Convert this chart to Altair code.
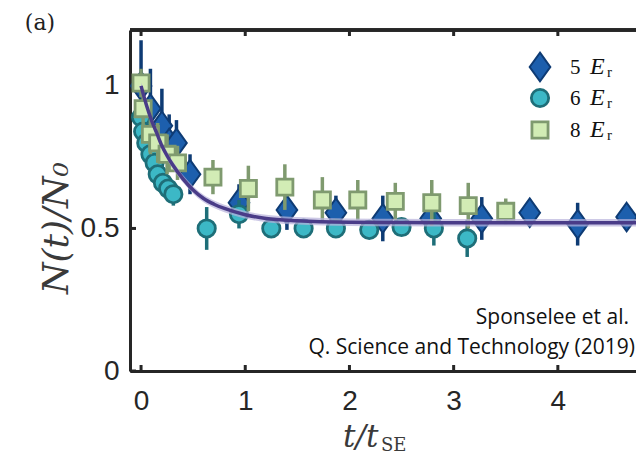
import altair as alt
import pandas as pd

# ---------------- data ----------------
d5_x = [0.00, 0.09, 0.20, 0.27, 0.34, 0.47, 0.94, 1.40, 1.87, 2.32, 2.78, 3.27, 3.73, 4.19, 4.66]
d5_y = [1.00, 0.92, 0.86, 0.80, 0.80, 0.69, 0.59, 0.565, 0.555, 0.535, 0.535, 0.535, 0.555, 0.515, 0.54]
d5_e = [0.16, 0.14, 0.13, 0.10, 0.08, 0.07, 0.065, 0.07, 0.06, 0.08, 0.04, 0.075, 0.045, 0.075, 0.03]

c6_x = [0.00, 0.02, 0.05, 0.09, 0.13, 0.16, 0.21, 0.26, 0.31, 0.63, 0.94, 1.25, 1.56, 1.87, 2.19, 2.50, 2.81, 3.13]
c6_y = [0.89, 0.84, 0.80, 0.76, 0.73, 0.69, 0.66, 0.64, 0.62, 0.50, 0.55, 0.50, 0.50, 0.50, 0.495, 0.505, 0.50, 0.465]
c6_e = [0.04, 0.04, 0.04, 0.04, 0.04, 0.04, 0.04, 0.04, 0.04, 0.075, 0.05, 0.02, 0.03, 0.02, 0.02, 0.03, 0.06, 0.065]

s8_x = [0.00, 0.02, 0.09, 0.16, 0.25, 0.35, 0.69, 1.03, 1.38, 1.74, 2.08, 2.44, 2.79, 3.14, 3.50]
s8_y = [1.01, 0.92, 0.83, 0.80, 0.76, 0.73, 0.68, 0.64, 0.645, 0.60, 0.60, 0.595, 0.59, 0.58, 0.56]
s8_e = [0.05, 0.07, 0.07, 0.07, 0.07, 0.06, 0.06, 0.08, 0.08, 0.08, 0.07, 0.065, 0.08, 0.08, 0.045]

fit_x = [0, 0.05, 0.1, 0.15, 0.2, 0.25, 0.3, 0.4, 0.5, 0.6, 0.7, 0.8, 1.0, 1.2, 1.5, 2.0, 2.5, 3.0, 4.0, 5.0]
fit_y = [1.0, 0.935, 0.88, 0.835, 0.79, 0.755, 0.725, 0.675, 0.635, 0.605, 0.585, 0.57, 0.548, 0.535,
         0.527, 0.522, 0.521, 0.52, 0.52, 0.52]
fit_band = 0.013

x_ticks = [0, 1, 2, 3, 4]
y_ticks = [0, 0.5, 1]
x_domain = [-0.106, 4.75]
y_domain = [0, 1.196]

series_labels = ["5", "6", "8"]

# ---------------- styling ----------------
W, H = 506, 341
AX = "#262626"
xs = alt.Scale(domain=x_domain, nice=False, zero=False)
ys = alt.Scale(domain=y_domain, nice=False, zero=False)
x_axis = alt.Axis(values=x_ticks, format="d", title=None, grid=False,
                  labelFont="Liberation Sans", labelFontSize=28, labelColor=AX,
                  tickSize=0, labelPadding=16, domainColor=AX, domainWidth=3)
y_axis = alt.Axis(values=y_ticks, format="~g", title=None, grid=False,
                  labelFont="Liberation Sans", labelFontSize=28, labelColor=AX,
                  tickSize=0, labelPadding=11, domainColor=AX, domainWidth=3)
DIAMOND = "M0,-1L0.72,0L0,1L-0.72,0Z"

styles = [
    dict(shape=DIAMOND, size=820, fill="#1d5fad", stroke="#0e3b74", sw=2.0, bar="#0e3b74"),
    dict(shape="circle", size=300, fill="#3cb8c6", stroke="#1e6e78", sw=2.8, bar="#1e6e78"),
    dict(shape="square", size=260, fill="#d2ecb5", stroke="#7f9a6f", sw=2.8, bar="#7f9a6f"),
]


def X(field="x"):
    return alt.X(f"{field}:Q", scale=xs, axis=x_axis)


def Y(field="y"):
    return alt.Y(f"{field}:Q", scale=ys, axis=y_axis)


def series(xv, yv, ev, st):
    df = pd.DataFrame({"x": xv, "y": yv})
    df["lo"] = [a - b for a, b in zip(yv, ev)]
    df["hi"] = [a + b for a, b in zip(yv, ev)]
    bars = alt.Chart(df).mark_rule(color=st["bar"], strokeWidth=3.5, clip=True).encode(
        x=X(), y=Y("lo"), y2="hi:Q")
    pts = alt.Chart(df).mark_point(shape=st["shape"], size=st["size"], fill=st["fill"],
                                   fillOpacity=1, stroke=st["stroke"], strokeWidth=st["sw"],
                                   opacity=1, clip=True).encode(x=X(), y=Y())
    return [bars, pts]


xt = pd.DataFrame({"v": x_ticks})
yt = pd.DataFrame({"v": y_ticks})
top_line = alt.Chart(xt).mark_rule(color=AX, strokeWidth=3).encode(
    x=alt.value(0), x2=alt.value(W), y=alt.value(0))
bot_ticks = alt.Chart(xt).mark_rule(color=AX, strokeWidth=3).encode(
    x=X("v"), y=alt.value(H), y2=alt.value(H - 6))
top_ticks = alt.Chart(xt).mark_rule(color=AX, strokeWidth=3).encode(
    x=X("v"), y=alt.value(0), y2=alt.value(6))
left_ticks = alt.Chart(yt).mark_rule(color=AX, strokeWidth=3).encode(
    y=Y("v"), x=alt.value(0), x2=alt.value(6))

layers = [top_line, bot_ticks, top_ticks, left_ticks]
layers += series(d5_x, d5_y, d5_e, styles[0])
layers += series(c6_x, c6_y, c6_e, styles[1])
layers += series(s8_x, s8_y, s8_e, styles[2])

fit_df = pd.DataFrame({"x": fit_x, "y": fit_y})
fit_df["lo"] = [v - fit_band for v in fit_y]
fit_df["hi"] = [v + fit_band for v in fit_y]
band = alt.Chart(fit_df).mark_area(color="#b8b2dc", opacity=0.7, interpolate="monotone", clip=True).encode(
    x=X(), y=Y("lo"), y2="hi:Q")
line = alt.Chart(fit_df).mark_line(color="#4a3c88", strokeWidth=3.5, interpolate="monotone", clip=True).encode(
    x=X(), y=Y())
layers += [band, line]

# legend (manual)
leg_y = [37, 68, 100]
for i, st in enumerate(styles):
    one = pd.DataFrame({"k": [series_labels[i]]})
    layers.append(alt.Chart(one).mark_point(shape=st["shape"], size=st["size"], fill=st["fill"],
                                            fillOpacity=1, stroke=st["stroke"],
                                            strokeWidth=st["sw"], opacity=1).encode(
        x=alt.value(410), y=alt.value(leg_y[i])))
    layers.append(alt.Chart(one).mark_text(font="Liberation Serif", fontSize=21, align="left",
                                           baseline="alphabetic", color="#111").encode(
        text="k:N", x=alt.value(440), y=alt.value(leg_y[i] + 7)))
    layers.append(alt.Chart(one).mark_text(text="E", font="Liberation Serif", fontStyle="italic",
                                           fontSize=24, align="left", baseline="alphabetic",
                                           color="#111").encode(
        x=alt.value(460), y=alt.value(leg_y[i] + 7)))
    layers.append(alt.Chart(one).mark_text(text="r", font="Liberation Serif", fontSize=15,
                                           align="left", baseline="alphabetic", color="#111").encode(
        x=alt.value(477), y=alt.value(leg_y[i] + 10)))

# titles and annotations
blank = pd.DataFrame({"k": [0]})


def txt(text, x, y, **kw):
    return alt.Chart(blank).mark_text(text=text, **kw).encode(x=alt.value(x), y=alt.value(y))


layers += [
    txt("N(t)/N\u2080", -73, 198, font="DejaVu Serif", fontStyle="italic", fontSize=36,
        fontWeight="normal", angle=270, align="center", baseline="middle", color="#3a3a3a"),
    txt("t/t", 213, 417, font="DejaVu Serif", fontStyle="italic", fontSize=31,
        align="left", baseline="alphabetic", color="#3a3a3a"),
    txt("SE", 251, 421, font="DejaVu Serif", fontSize=18, align="left",
        baseline="alphabetic", color="#3a3a3a"),
    txt("(a)", -90, -7, font="DejaVu Serif", fontSize=22, align="center",
        baseline="middle", color="#222"),
    txt("Sponselee et al.", 499, 294, font="Open Sans", fontSize=21, align="right",
        baseline="alphabetic", color="#111"),
    txt("Q. Science and Technology (2019)", 505, 324, font="Open Sans", fontSize=21,
        align="right", baseline="alphabetic", color="#111"),
]

chart = alt.layer(*layers).properties(
    width=W, height=H,
    autosize=alt.AutoSizeParams(type="none"),
    padding={"left": 130, "top": 30, "right": 0, "bottom": 85},
).configure_view(stroke=None).configure(background="white")

chart.save("out.html", embed_options={"renderer": "svg", "actions": False})
